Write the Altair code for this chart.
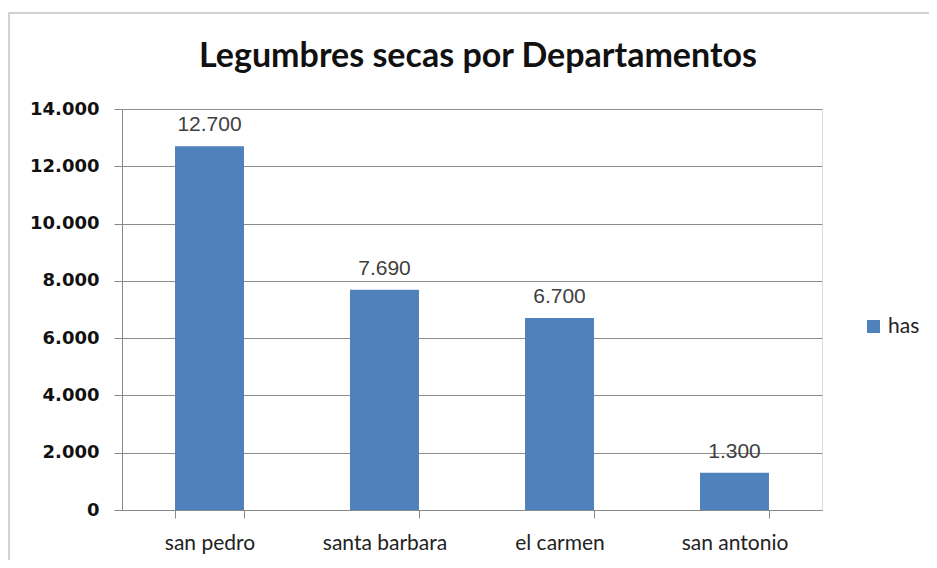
import altair as alt
import pandas as pd

categories = ["san pedro", "santa barbara", "el carmen", "san antonio"]
values = [12700, 7690, 6700, 1300]
series = ["has", "has", "has", "has"]
y_ticks = [0, 2000, 4000, 6000, 8000, 10000, 12000, 14000]

df = pd.DataFrame({"dep": categories, "has": values, "serie": series})

W, H = 700, 401

base = alt.Chart(df).encode(
    x=alt.X("dep:N", sort=categories, title=None,
            scale=alt.Scale(paddingInner=0.606, paddingOuter=0.303),
            axis=alt.Axis(labelAngle=0, tickBand="extent", tickSize=8,
                          labelPadding=14, labelFont="Lato", labelFontSize=21,
                          labelColor="#222222", domainColor="#888888",
                          tickColor="#888888", grid=False)),
    y=alt.Y("has:Q", title=None,
            scale=alt.Scale(domain=[0, 14000], nice=False),
            axis=alt.Axis(values=y_ticks, tickSize=8, labelPadding=15,
                          labelFont="DejaVu Sans", labelFontWeight="bold",
                          labelFontSize=18, labelColor="#111111",
                          labelExpr="replace(format(datum.value, ','), ',', '.')",
                          domainColor="#888888", tickColor="#888888",
                          gridColor="#8c8c8c", gridOpacity=1)),
)

bars = base.mark_bar(color="#4F81BD").encode(
    color=alt.Color("serie:N", title=None,
                    scale=alt.Scale(range=["#4F81BD"]),
                    legend=alt.Legend(orient="none", legendX=741, legendY=207,
                                      symbolType="square", symbolSize=169,
                                      symbolStrokeWidth=0, labelFont="Lato",
                                      labelFontSize=21, labelColor="#222222"))
)

labels = base.mark_text(font="Liberation Sans", fontSize=21, color="#404040",
                        dy=-15, baseline="alphabetic").transform_calculate(
    label="replace(format(datum.has, ','), ',', '.')"
).encode(text="label:N")

frame = alt.Chart(pd.DataFrame({"f": [0]})).mark_rect(
    fill=None, stroke="#c4c4c4", strokeWidth=1.5
).encode(x=alt.value(-113), y=alt.value(-96), x2=alt.value(900), y2=alt.value(600))

chart = alt.layer(frame, bars, labels).properties(
    width=W, height=H,
    title=alt.TitleParams("Legumbres secas por Departamentos", font="Lato",
                          fontSize=34, fontWeight="bold", color="#111111",
                          anchor="middle", baseline="alphabetic", offset=-54,
                          dx=6, dy=35),
    padding={"left": 114, "top": 101, "right": 107, "bottom": 50},
    autosize=alt.AutoSizeParams(type="none"),
).configure_view(stroke=None).configure(background="white")

chart.save("out.html", embed_options={"renderer": "svg", "actions": False})
